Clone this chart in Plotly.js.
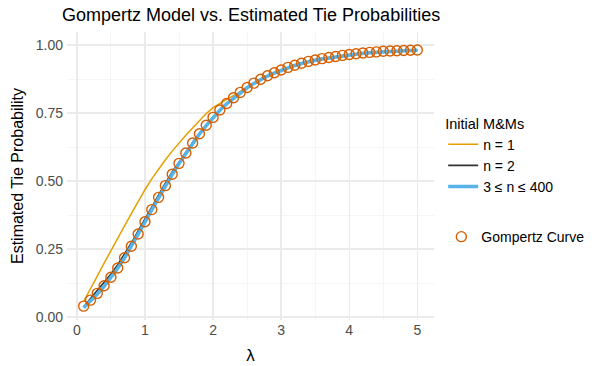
<!DOCTYPE html>
<html>
<head>
<meta charset="utf-8">
<script src="https://cdn.plot.ly/plotly-3.0.1.min.js"></script>
<style>html,body{margin:0;padding:0;background:#fff;}#chart{width:602px;height:366px;}</style>
</head>
<body>
<div id="chart"></div>
<script>
// lambda grid
const lambda = [0.1,0.2,0.3,0.4,0.5,0.6,0.7,0.8,0.9,1.0,1.1,1.2,1.3,1.4,1.5,1.6,1.7,1.8,1.9,2.0,2.1,2.2,2.3,2.4,2.5,2.6,2.7,2.8,2.9,3.0,3.1,3.2,3.3,3.4,3.5,3.6,3.7,3.8,3.9,4.0,4.1,4.2,4.3,4.4,4.5,4.6,4.7,4.8,4.9,5.0];
// Gompertz curve (circles)
const gompertz = [0.040,0.062,0.087,0.115,0.146,0.180,0.218,0.260,0.305,0.350,0.395,0.440,0.483,0.525,0.565,0.603,0.640,0.674,0.705,0.734,0.761,0.785,0.806,0.826,0.844,0.860,0.874,0.887,0.898,0.908,0.918,0.926,0.933,0.940,0.945,0.950,0.954,0.958,0.962,0.965,0.968,0.971,0.973,0.975,0.977,0.978,0.979,0.980,0.981,0.982];
// n = 1
const n1 = [0.058,0.102,0.150,0.198,0.245,0.290,0.335,0.380,0.425,0.468,0.508,0.544,0.578,0.610,0.640,0.668,0.695,0.722,0.748,0.770,0.786,0.800,0.814,0.828,0.844,0.860,0.874,0.887,0.898,0.908,0.918,0.926,0.933,0.940,0.945,0.950,0.954,0.958,0.962,0.965,0.968,0.971,0.973,0.975,0.977,0.978,0.979,0.980,0.981,0.982];
// n = 2
const n2 = [0.038,0.068,0.097,0.127,0.158,0.192,0.230,0.272,0.317,0.362,0.406,0.450,0.492,0.533,0.571,0.607,0.642,0.675,0.706,0.735,0.761,0.785,0.806,0.826,0.844,0.860,0.874,0.887,0.898,0.908,0.918,0.926,0.933,0.940,0.945,0.950,0.954,0.958,0.962,0.965,0.968,0.971,0.973,0.975,0.977,0.978,0.979,0.980,0.981,0.982];
// 3 <= n <= 400
const n3to400 = [0.034,0.058,0.084,0.113,0.145,0.179,0.217,0.259,0.304,0.349,0.394,0.439,0.482,0.524,0.564,0.602,0.639,0.673,0.704,0.733,0.760,0.784,0.805,0.825,0.843,0.859,0.873,0.886,0.897,0.907,0.917,0.925,0.932,0.939,0.944,0.949,0.953,0.957,0.961,0.964,0.967,0.970,0.972,0.974,0.976,0.977,0.978,0.979,0.980,0.981];

const xTicks = [0,1,2,3,4,5];
const yTicks = [0,0.25,0.5,0.75,1];
const yTickText = ["0.00","0.25","0.50","0.75","1.00"];

const FONT = "Liberation Sans, Arial, Helvetica, sans-serif";

const traces = [
  {x: lambda, y: n1, type:'scatter', mode:'lines', name:'n = 1',
   line:{color:'#E69F00', width:1.5}, legend:'legend', legendgroup:'mm'},
  {x: lambda, y: n2, type:'scatter', mode:'lines', name:'n = 2',
   line:{color:'#333333', width:1.6}, legend:'legend', legendgroup:'mm'},
  {x: lambda, y: n3to400, type:'scatter', mode:'lines', name:'3 ≤ n ≤ 400',
   line:{color:'#56B4E9', width:3.5}, legend:'legend', legendgroup:'mm'},
  {x: lambda, y: gompertz, type:'scatter', mode:'markers', name:'Gompertz Curve',
   marker:{symbol:'circle-open', size:10, color:'#D55E00', line:{width:1.4, color:'#D55E00'}},
   legend:'legend2'}
];

const layout = {
  width: 602, height: 366,
  margin: {l:67, r:168, t:32, b:46},
  paper_bgcolor:'#ffffff', plot_bgcolor:'#ffffff',
  font: {family: FONT, color:'#000000'},
  showlegend: true,
  title: {text:'Gompertz Model vs. Estimated Tie Probabilities', font:{size:18, family:FONT, color:'#000'},
          x: 62/602, xanchor:'left', xref:'container', y: 0.96, yanchor:'middle', yref:'container'},
  xaxis: {
    range:[-0.145, 5.245], tickvals:xTicks, ticktext:xTicks.map(String),
    showgrid:true, gridcolor:'#EBEBEB', gridwidth:1.3,
    minor:{dtick:0.5, tick0:0, showgrid:true, gridcolor:'#F3F3F3', gridwidth:0.8},
    zeroline:false, showline:false, ticks:'', tickfont:{size:14, color:'#4D4D4D', family:FONT},
    title:{text:'λ', font:{size:17, color:'#000', family:FONT}, standoff:12}
  },
  yaxis: {
    range:[-0.011, 1.048], tickvals:yTicks, ticktext:yTickText,
    showgrid:true, gridcolor:'#EBEBEB', gridwidth:1.3,
    minor:{dtick:0.125, tick0:0, showgrid:true, gridcolor:'#F3F3F3', gridwidth:0.8},
    zeroline:false, showline:false, ticks:'', ticklabelstandoff:3,
    tickfont:{size:14, color:'#4D4D4D', family:FONT},
    title:{text:'Estimated Tie Probability', font:{size:16, color:'#000', family:FONT}, standoff:8}
  },
  legend: {
    x: 1.025, xanchor:'left', y: 0.73, yanchor:'top',
    title:{text:'Initial M&Ms', font:{size:14.5, color:'#000', family:FONT}},
    font:{size:14, color:'#000', family:FONT}, bgcolor:'rgba(0,0,0,0)', borderwidth:0,
    itemwidth:30, tracegroupgap:0
  },
  legend2: {
    x: 1.02, xanchor:'left', y: 0.288, yanchor:'middle',
    font:{size:14, color:'#000', family:FONT}, bgcolor:'rgba(0,0,0,0)', borderwidth:0
  }
};

Plotly.newPlot('chart', traces, layout, {displayModeBar:false, staticPlot:true});
</script>
</body>
</html>
